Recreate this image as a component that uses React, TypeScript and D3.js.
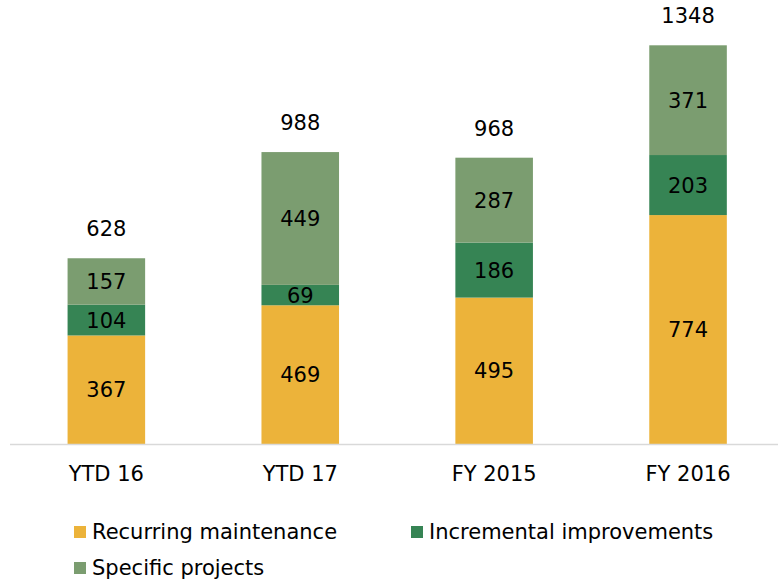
import React, { useEffect, useRef } from 'react';
import * as d3 from 'd3';

const categories = ['YTD 16', 'YTD 17', 'FY 2015', 'FY 2016'];
const recurring = [367, 469, 495, 774];
const incremental = [104, 69, 186, 203];
const specific = [157, 449, 287, 371];
const totals = [628, 988, 968, 1348];

const seriesNames = ['Recurring maintenance', 'Incremental improvements', 'Specific projects'];
const colors = ['#ECB33A', '#368454', '#7B9D70'];

const width = 781;
const height = 581;

const App = () => {
  const ref = useRef<SVGSVGElement>(null);

  useEffect(() => {
    const svg = d3.select(ref.current);
    svg.selectAll('*').remove();

    const rows = categories.map((c, i) => ({
      cat: c,
      recurring: recurring[i],
      incremental: incremental[i],
      specific: specific[i],
    }));
    const keys = ['recurring', 'incremental', 'specific'];
    const stacked = d3.stack<any>().keys(keys)(rows);

    const x = d3.scaleBand().domain(categories).range([9.4, 785]).paddingInner(0.6).paddingOuter(0.3);
    const y = d3.scaleLinear().domain([0, 1348]).range([444, 45.3]);

    const font = 'DejaVu Sans, Verdana, sans-serif';

    // bars + segment labels
    stacked.forEach((layer, li) => {
      const g = svg.append('g');
      g.selectAll('rect')
        .data(layer)
        .enter()
        .append('rect')
        .attr('x', (d: any) => x(d.data.cat)!)
        .attr('width', x.bandwidth())
        .attr('y', (d: any) => y(d[1]))
        .attr('height', (d: any) => y(d[0]) - y(d[1]))
        .attr('fill', colors[li]);

      g.selectAll('text')
        .data(layer)
        .enter()
        .append('text')
        .attr('x', (d: any) => x(d.data.cat)! + x.bandwidth() / 2)
        .attr('y', (d: any) => (y(d[0]) + y(d[1])) / 2)
        .attr('dy', '0.36em')
        .attr('text-anchor', 'middle')
        .style('font-family', font)
        .style('font-size', '21px')
        .style('fill', '#000')
        .text((d: any) => d[1] - d[0]);
    });

    // totals
    svg.append('g')
      .selectAll('text')
      .data(categories)
      .enter()
      .append('text')
      .attr('x', d => x(d)! + x.bandwidth() / 2)
      .attr('y', (d, i) => y(totals[i]) - 22)
      .attr('text-anchor', 'middle')
      .style('font-family', font)
      .style('font-size', '21px')
      .style('fill', '#000')
      .text((d, i) => totals[i]);

    // axis line
    svg.append('line')
      .attr('x1', 10)
      .attr('x2', 778)
      .attr('y1', y(0) + 0.5)
      .attr('y2', y(0) + 0.5)
      .attr('stroke', '#d9d9d9')
      .attr('stroke-width', 1.5);

    // category labels
    svg.append('g')
      .selectAll('text')
      .data(categories)
      .enter()
      .append('text')
      .attr('x', d => x(d)! + x.bandwidth() / 2)
      .attr('y', 481)
      .attr('text-anchor', 'middle')
      .style('font-family', font)
      .style('font-size', '21px')
      .style('fill', '#000')
      .text(d => d);

    // legend
    const legendPos = [
      { x: 74, y: 539 },
      { x: 411, y: 539 },
      { x: 74, y: 575 },
    ];
    seriesNames.forEach((name, i) => {
      const p = legendPos[i];
      svg.append('rect')
        .attr('x', p.x)
        .attr('y', p.y - 13)
        .attr('width', 12)
        .attr('height', 12)
        .attr('fill', colors[i]);
      svg.append('text')
        .attr('x', p.x + 18)
        .attr('y', p.y)
        .style('font-family', font)
        .style('font-size', '21px')
        .style('fill', '#000')
        .text(name);
    });
  }, []);

  return (
    <svg
      ref={ref}
      width={width}
      height={height}
      style={{ position: 'absolute', left: 0, top: 0, background: '#fff' }}
    />
  );
};

export default App;
